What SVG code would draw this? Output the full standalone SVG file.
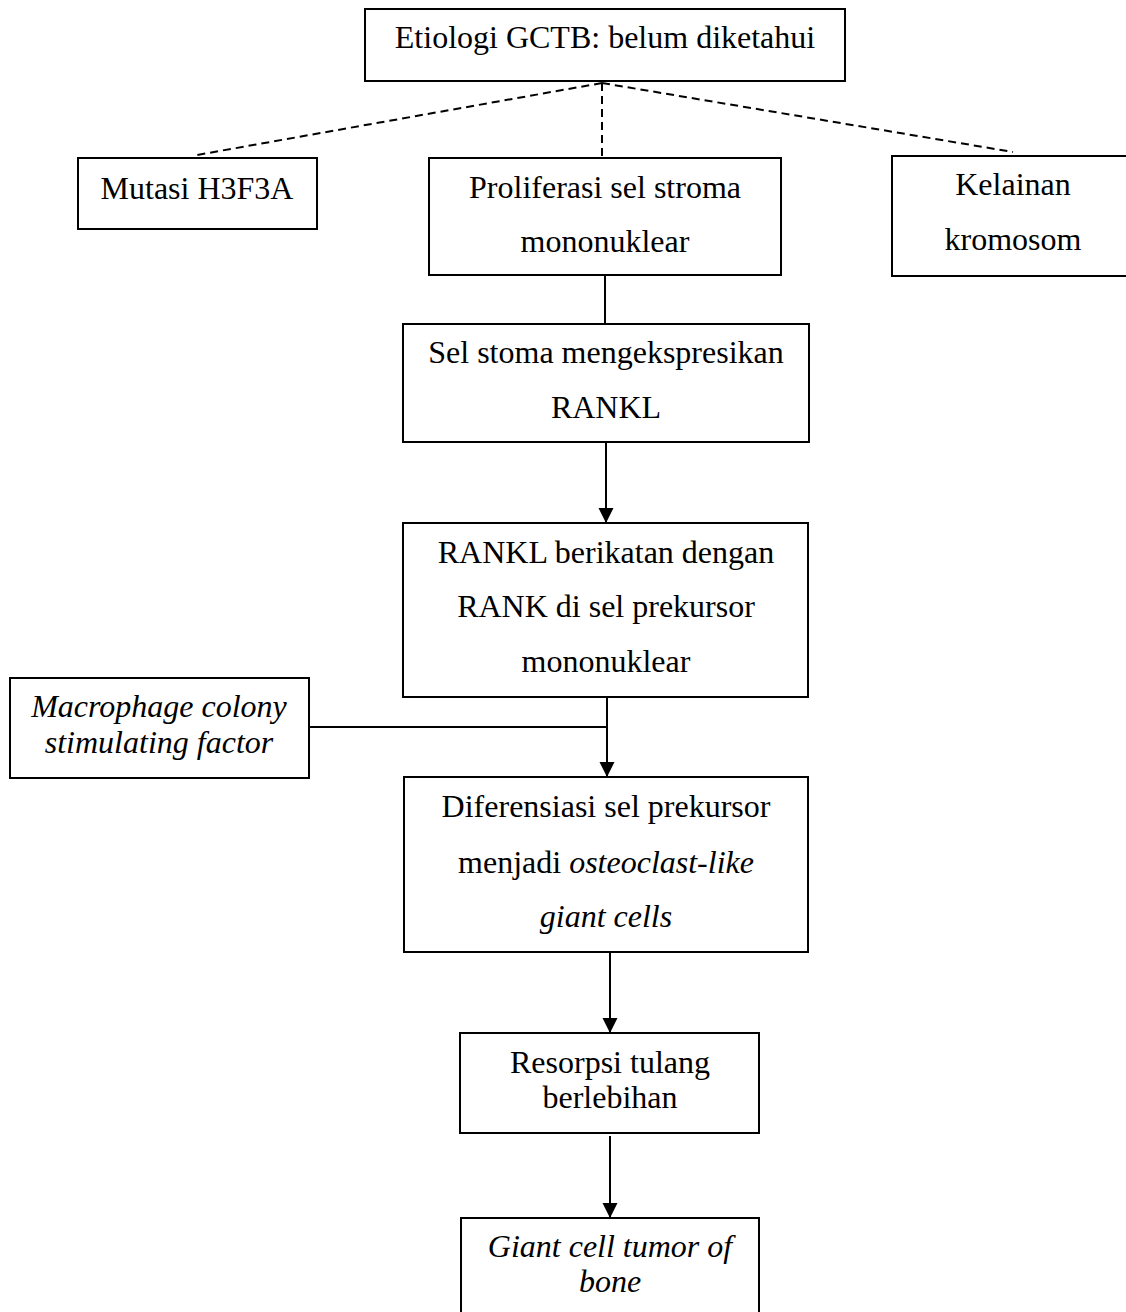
<svg xmlns="http://www.w3.org/2000/svg" width="1126" height="1312" viewBox="0 0 1126 1312">
<style>
.box{fill:#fff;stroke:#000;stroke-width:2}
.t{font-family:"Liberation Serif","Times New Roman",serif;font-size:32px;fill:#000;text-anchor:middle}
.i{font-style:italic}
.ln{fill:none;stroke:#000;stroke-width:2}
.dash{fill:none;stroke:#000;stroke-width:2;stroke-dasharray:8,5}
</style>
<defs>
<marker id="arr" markerUnits="userSpaceOnUse" markerWidth="16" markerHeight="16" refX="15" refY="7.5" orient="auto">
<path d="M0,0 L15,7.5 L0,15 z" fill="#000"/>
</marker>
</defs>
<rect width="1126" height="1312" fill="#fff"/>
<g id="connectors">
<path class="dash" d="M602,83 L197,155"/>
<path class="dash" d="M602,83 L602,157"/>
<path class="dash" d="M602,83 L1013,152"/>
<path class="ln" d="M605,275 L605,324"/>
<path class="ln" d="M606,442 L606,523" marker-end="url(#arr)"/>
<path class="ln" d="M309,727 L607,727"/>
<path class="ln" d="M607,697 L607,777" marker-end="url(#arr)"/>
<path class="ln" d="M610,952 L610,1033" marker-end="url(#arr)"/>
<path class="ln" d="M610,1136 L610,1218" marker-end="url(#arr)"/>
</g>
<g id="etiologi">
<rect class="box" x="365" y="9" width="480" height="72"/>
<text class="t" x="605" y="48">Etiologi GCTB: belum diketahui</text>
</g>
<g id="mutasi">
<rect class="box" x="78" y="158" width="239" height="71"/>
<text class="t" x="197" y="199">Mutasi H3F3A</text>
</g>
<g id="proliferasi">
<rect class="box" x="429" y="158" width="352" height="117"/>
<text class="t" x="605" y="198">Proliferasi sel stroma</text>
<text class="t" x="605" y="252">mononuklear</text>
</g>
<g id="kelainan">
<rect class="box" x="892" y="156" width="240" height="120"/>
<text class="t" x="1013" y="195">Kelainan</text>
<text class="t" x="1013" y="250">kromosom</text>
</g>
<g id="selstoma">
<rect class="box" x="403" y="324" width="406" height="118"/>
<text class="t" x="606" y="363">Sel stoma mengekspresikan</text>
<text class="t" x="606" y="418">RANKL</text>
</g>
<g id="rankl">
<rect class="box" x="403" y="523" width="405" height="174"/>
<text class="t" x="606" y="563">RANKL berikatan dengan</text>
<text class="t" x="606" y="617">RANK di sel prekursor</text>
<text class="t" x="606" y="672">mononuklear</text>
</g>
<g id="mcsf">
<rect class="box" x="10" y="678" width="299" height="100"/>
<text class="t i" x="159" y="717">Macrophage colony</text>
<text class="t i" x="159" y="753">stimulating factor</text>
</g>
<g id="diferensiasi">
<rect class="box" x="404" y="777" width="404" height="175"/>
<text class="t" x="606" y="817">Diferensiasi sel prekursor</text>
<text class="t" x="606" y="873">menjadi <tspan class="i">osteoclast-like</tspan></text>
<text class="t i" x="606" y="927">giant cells</text>
</g>
<g id="resorpsi">
<rect class="box" x="460" y="1033" width="299" height="100"/>
<text class="t" x="610" y="1073">Resorpsi tulang</text>
<text class="t" x="610" y="1108">berlebihan</text>
</g>
<g id="gctb">
<rect class="box" x="461" y="1218" width="298" height="110"/>
<text class="t i" x="610" y="1257">Giant cell tumor of</text>
<text class="t i" x="610" y="1292">bone</text>
</g>
</svg>
